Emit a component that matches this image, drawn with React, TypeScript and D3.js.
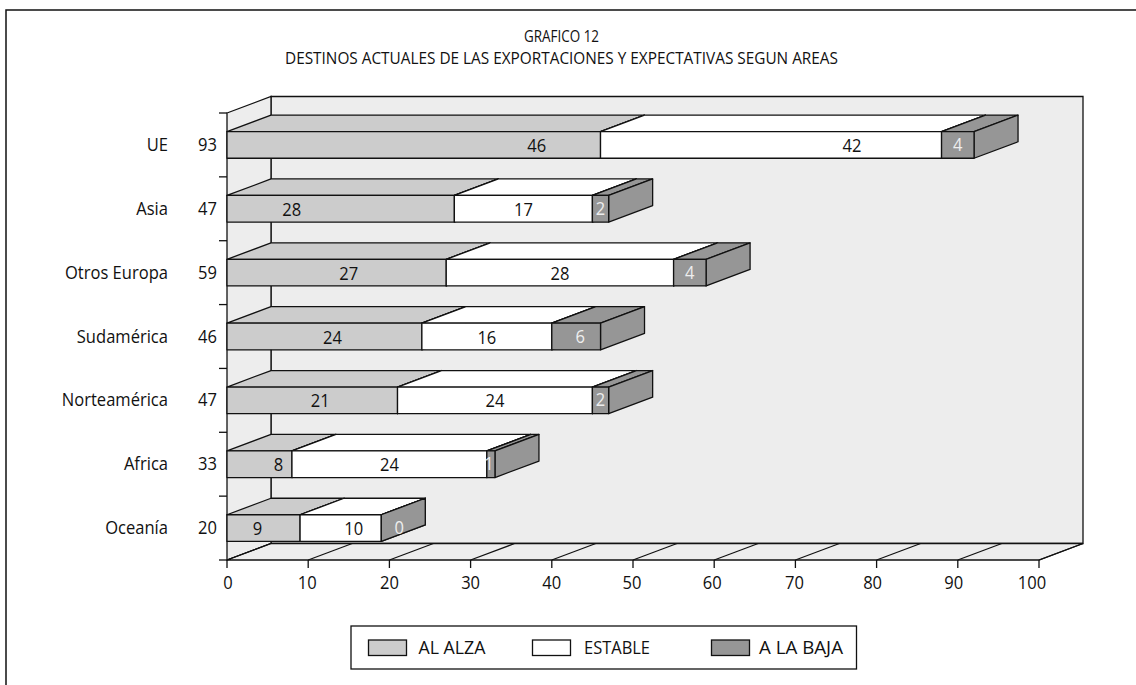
import React from 'react'
import * as d3 from 'd3'

const categories = ['UE', 'Asia', 'Otros Europa', 'Sudamérica', 'Norteamérica', 'Africa', 'Oceanía']
const totals = [93, 47, 59, 46, 47, 33, 20]
const alAlza = [46, 28, 27, 24, 21, 8, 9]
const estable = [42, 17, 28, 16, 24, 24, 10]
const aLaBaja = [4, 2, 4, 6, 2, 1, 0]
const xTicks = [0, 10, 20, 30, 40, 50, 60, 70, 80, 90, 100]

// the source chart doesn't centre its labels, so nudge them by hand (px from segment centre)
const alzaNudge = [123, -49, 12, 8, 8, 19, -6]
const estableNudge = [81, 0, 0, 0, 0, 0, 13]
const bajaNudge = [0, 0, 0, 4, 0, -2, 18]
const xTickNudge = [1, -1, 0, 0, 0, -1, -2, -1, -4, -4, -7]

const seriesNames = ['AL ALZA', 'ESTABLE', 'A LA BAJA']
const seriesColors = ['#cccccc', '#ffffff', '#969696']
const wall = '#ededed'
const ink = '#111'
const font = '"Open Sans", sans-serif'

const x = d3.scaleLinear().domain([0, 100]).range([227, 1039])
const y = d3.scaleBand<string>().domain(categories).range([113, 560]).paddingInner(0.583).paddingOuter(0.2915)
const depthX = 44
const depthY = -16.5

const poly = (pts: number[][]) => `M${pts.map(p => p.join(',')).join('L')}Z`

// source font is narrower than Open Sans: tall glyphs, squeezed a bit
function Label({ x, y, anchor = 'middle', fill = ink, children }: { x: number; y: number; anchor?: string; fill?: string; children: React.ReactNode }) {
  return (
    <text transform={`translate(${x},${y}) scale(0.92,1)`} textAnchor={anchor} fontSize={18} fill={fill}>
      {children}
    </text>
  )
}

function Segment({ from, to, top, color }: { from: number; to: number; top: number; color: string }) {
  const h = y.bandwidth()
  const x0 = x(from)
  const x1 = x(to)
  return (
    <g fill={color} stroke={ink} strokeWidth={1.3} strokeLinejoin="round">
      <path d={poly([[x0, top], [x0 + depthX, top + depthY], [x1 + depthX, top + depthY], [x1, top]])} />
      <path d={poly([[x1, top], [x1 + depthX, top + depthY], [x1 + depthX, top + h + depthY], [x1, top + h]])} />
      <rect x={x0} y={top} width={x1 - x0} height={h} />
    </g>
  )
}

export default function App() {
  const floorY = y.range()[1]
  const topY = y.range()[0]
  const x0 = x(0)
  const x100 = x(100)
  const yEdges = [...categories.map(c => y(c)! - y.step() * 0.2915), floorY]

  return (
    <svg width={1136} height={685} style={{ position: 'absolute', left: 0, top: 0, background: '#fff' }} fontFamily={font}>
      {/* page frame */}
      <path d="M6,685V10H1136" fill="none" stroke={ink} strokeWidth={1.5} />

      <g textAnchor="middle" fontSize={16.5} fill={ink}>
        <text x={561.5} y={42} textLength={75} lengthAdjust="spacingAndGlyphs">GRAFICO 12</text>
        <text x={561.5} y={64} textLength={553} lengthAdjust="spacingAndGlyphs">DESTINOS ACTUALES DE LAS EXPORTACIONES Y EXPECTATIVAS SEGUN AREAS</text>
      </g>

      {/* walls */}
      <g fill={wall} stroke={ink} strokeWidth={1.3}>
        <path d={poly([[x0 + depthX, topY + depthY], [x100 + depthX, topY + depthY], [x100 + depthX, floorY + depthY], [x0 + depthX, floorY + depthY]])} />
        <path d={poly([[x0, topY], [x0 + depthX, topY + depthY], [x0 + depthX, floorY + depthY], [x0, floorY]])} />
        <path d={poly([[x0, floorY], [x0 + depthX, floorY + depthY], [x100 + depthX, floorY + depthY], [x100, floorY]])} />
      </g>

      {/* axes ticks */}
      <g stroke={ink} strokeWidth={1.3}>
        {xTicks.map(t => (
          <g key={t}>
            <line x1={x(t)} y1={floorY} x2={x(t) + depthX} y2={floorY + depthY} />
            <line x1={x(t)} y1={floorY} x2={x(t)} y2={floorY + 8} />
          </g>
        ))}
        {yEdges.map(v => <line key={v} x1={x0 - 8} y1={v} x2={x0} y2={v} />)}
      </g>
      {xTicks.map((t, i) => <Label key={t} x={x(t) + xTickNudge[i]} y={589}>{t}</Label>)}

      {/* bars, back to front */}
      {categories.map((c, i) => {
        const top = y(c)!
        const mid = top + y.bandwidth() / 2 + 7
        const a = alAlza[i]
        const e = a + estable[i]
        const b = e + aLaBaja[i]
        return (
          <g key={c}>
            <Segment from={0} to={a} top={top} color={seriesColors[0]} />
            <Segment from={a} to={e} top={top} color={seriesColors[1]} />
            <Segment from={e} to={b} top={top} color={seriesColors[2]} />
            <Label x={x(a / 2) + alzaNudge[i]} y={mid}>{alAlza[i]}</Label>
            <Label x={x((a + e) / 2) + estableNudge[i]} y={mid}>{estable[i]}</Label>
            <Label x={x((e + b) / 2) + bajaNudge[i]} y={mid - 1} fill="#eee">{aLaBaja[i]}</Label>
            <Label x={168} y={mid - 1} anchor="end">{c}</Label>
            <Label x={217} y={mid - 1} anchor="end">{totals[i]}</Label>
          </g>
        )
      })}

      {/* legend */}
      <rect x={351} y={626} width={505.5} height={43} fill="#fff" stroke={ink} strokeWidth={1.3} />
      {seriesNames.map((name, i) => (
        <g key={name}>
          <rect x={[368.5, 532.5, 711.5][i]} y={640} width={38} height={15.5} fill={seriesColors[i]} stroke={ink} strokeWidth={1.3} />
          <text x={[418.5, 584, 759][i]} y={654} fontSize={18} fill={ink} textLength={[67, 66, 84][i]} lengthAdjust="spacingAndGlyphs">{name}</text>
        </g>
      ))}
    </svg>
  )
}
